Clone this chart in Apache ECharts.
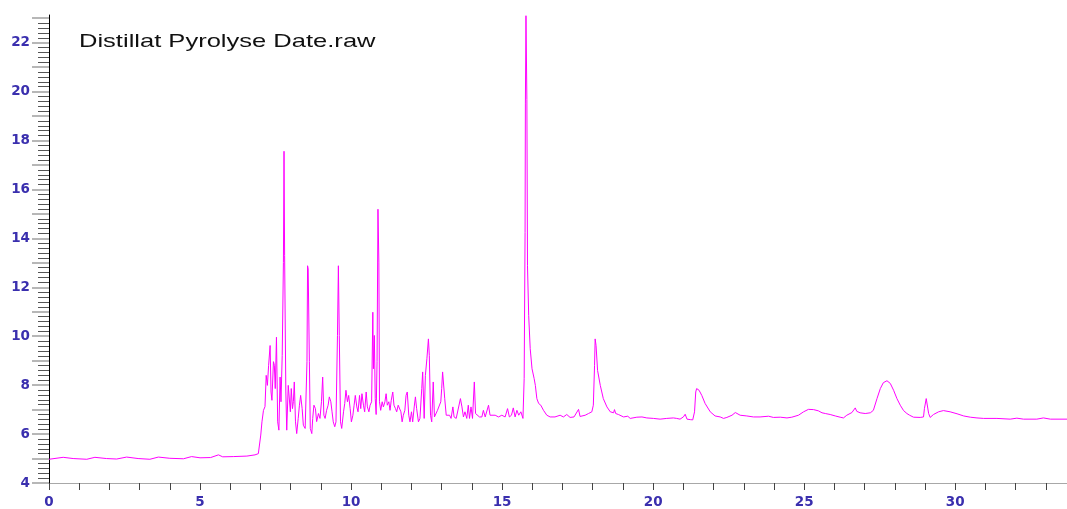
<!DOCTYPE html>
<html>
<head>
<meta charset="utf-8">
<title>Distillat Pyrolyse Date.raw</title>
<script src="https://cdn.jsdelivr.net/npm/echarts@6/dist/echarts.min.js"></script>
<style>
  html, body { margin: 0; padding: 0; background: #ffffff; }
  #chart { width: 1067px; height: 509px; }
</style>
</head>
<body>
<div id="chart"></div>
<script>
// Chromatogram trace: [retention time (min), detector signal]
const baselineRun = [
  [0.00,4.97],[0.47,5.05],[0.80,5.00],[1.25,4.97],[1.52,5.05],[1.90,5.00],[2.24,4.98],[2.57,5.06],
  [2.95,5.00],[3.34,4.97],[3.62,5.06],[4.00,5.01],[4.45,4.99],[4.72,5.08],[5.00,5.03],[5.35,5.04],
  [5.61,5.15],[5.75,5.07],[6.10,5.08],[6.55,5.10],[6.82,5.15],[6.93,5.20],[6.97,5.18],[7.01,5.96],
  [7.05,6.50],[7.10,6.97],[7.15,7.12]
];

const earlyCluster = [
  [7.19,8.40],[7.23,7.99],[7.27,8.81],[7.32,9.62],[7.35,7.72],[7.38,7.38],[7.43,8.96],[7.46,8.81],
  [7.49,7.86],[7.53,9.96],[7.57,6.50],[7.61,6.16],[7.65,8.33],[7.68,7.32],[7.72,9.21],[7.76,13.02],
  [7.78,17.56],[7.80,13.29],[7.84,7.72],[7.87,6.16],[7.92,7.99],[7.96,7.94],[7.99,6.91],[8.02,7.86],
  [8.06,7.04],[8.09,7.33],[8.12,8.13],[8.16,6.50],[8.20,6.02],[8.25,6.64],[8.29,7.18],[8.33,7.58],
  [8.38,7.04],[8.42,6.36],[8.48,6.23],[8.54,8.96],[8.56,12.88],[8.58,12.75],[8.62,8.96],[8.65,6.23],
  [8.70,6.02],[8.73,6.64],[8.77,7.18],[8.82,7.04],[8.86,6.51],[8.92,6.84],[8.97,6.64],[9.02,7.32],
  [9.06,8.33],[9.10,6.77],[9.14,6.64],[9.19,6.97],[9.24,7.18],[9.28,7.52],[9.33,7.32],[9.37,6.91],
  [9.41,6.50],[9.46,6.30],[9.50,6.50],[9.55,10.03],[9.58,12.88],[9.61,10.03],[9.65,6.50],[9.69,6.23],
  [9.75,6.91],[9.79,7.25],[9.83,7.79],[9.88,7.32],[9.92,7.58],[9.97,7.04]
];

const midCluster = [
  [10.01,6.50],[10.06,6.77],[10.10,7.18],[10.14,7.58],[10.19,7.11],[10.23,6.91],[10.28,7.58],[10.32,7.04],
  [10.36,7.65],[10.41,7.18],[10.45,6.91],[10.50,7.72],[10.54,7.11],[10.59,6.91],[10.63,7.18],[10.68,7.32],
  [10.72,10.98],[10.74,8.67],[10.77,10.03],[10.80,7.45],[10.83,6.80],[10.86,8.96],[10.89,15.19],[10.92,13.03],
  [10.94,7.32],[10.98,6.97],[11.03,7.32],[11.07,7.11],[11.12,7.32],[11.16,7.65],[11.20,7.18],[11.25,7.32],
  [11.29,6.97],[11.33,7.38],[11.38,7.72],[11.42,7.18],[11.47,7.04],[11.51,6.91],[11.56,7.18],[11.60,7.11],
  [11.65,6.91],[11.69,6.50],[11.73,6.77],[11.78,6.97],[11.82,7.58],[11.86,7.72],[11.91,6.77],[11.95,6.50],
  [12.00,6.91],[12.04,6.50],[12.09,7.11],[12.13,7.52],[12.17,7.04],[12.23,6.50],[12.28,6.64],[12.34,7.86],
  [12.37,8.54],[12.42,6.64],[12.46,8.40],[12.51,9.08],[12.56,9.89],[12.59,9.21],[12.63,6.77],[12.67,6.50],
  [12.72,8.13],[12.76,6.70],[12.80,6.77],[12.86,6.97],[12.91,6.91],[12.97,7.32],[13.00,7.86],[13.03,8.54],
  [13.06,8.60],[13.10,7.45],[13.15,6.77],[13.20,6.70],[13.26,6.77],[13.31,6.64],[13.37,7.11],[13.41,6.70],
  [13.48,6.64],[13.54,6.70],[13.62,7.45],[13.67,7.11],[13.72,6.70],[13.77,6.91],[13.83,6.64],[13.88,7.18],
  [13.92,6.64],[13.97,7.11],[14.02,6.64],[14.08,8.13],[14.12,6.84],[14.18,6.77],[14.25,6.70],[14.33,6.70],
  [14.38,6.97],[14.44,6.70],[14.49,6.77],[14.55,7.18],[14.60,6.77],[14.66,6.70],[14.77,6.77],[14.88,6.70],
  [14.99,6.77],[15.10,6.70],[15.18,7.04],[15.24,6.70],[15.31,6.77],[15.37,7.07],[15.43,6.70],[15.49,6.97],
  [15.55,6.77],[15.62,6.91],[15.69,6.64]
];

const mainPeak = [
  [15.73,8.27],[15.76,14.24],[15.77,19.53],[15.79,23.10],[15.82,19.67],[15.84,12.88],[15.88,10.84],[15.93,9.49],
  [15.99,8.67],[16.06,8.27],[16.10,7.99],[16.15,7.45],[16.21,7.25],[16.28,7.18],[16.32,7.25],[16.37,6.97],
  [16.48,6.77],[16.59,6.70],[16.75,6.70],[16.92,6.77],[17.03,6.70],[17.14,6.80],[17.25,6.68],[17.38,6.70],
  [17.53,7.01],[17.58,6.72],[17.64,6.64],[17.75,6.77],[17.86,6.84],[17.97,6.91],[18.02,7.18],[18.06,8.81],
  [18.08,9.89],[18.11,9.62],[18.16,8.60],[18.25,7.99],[18.35,7.45],[18.47,7.11],[18.58,6.91],[18.69,6.87],
  [18.72,7.00],[18.76,6.84],[18.85,6.80]
];

const lateElution = [
  [19.02,6.70],[19.16,6.73],[19.24,6.64],[19.46,6.69],[19.63,6.70],[19.79,6.66],[20.01,6.64],[20.23,6.61],
  [20.45,6.64],[20.67,6.66],[20.78,6.64],[20.89,6.61],[21.00,6.70],[21.06,6.81],[21.12,6.61],[21.23,6.59],
  [21.31,6.58],[21.37,6.91],[21.41,7.72],[21.44,7.86],[21.52,7.79],[21.61,7.58],[21.72,7.25],[21.89,6.91],
  [22.05,6.74],[22.22,6.70],[22.33,6.64],[22.44,6.68],[22.61,6.77],[22.72,6.88],[22.77,6.84],[22.88,6.77],
  [23.10,6.74],[23.32,6.70],[23.54,6.70],[23.82,6.73],[23.98,6.68],[24.21,6.69],[24.43,6.66],[24.59,6.69],
  [24.81,6.77],[24.98,6.91],[25.14,7.01],[25.31,7.00],[25.47,6.95],[25.59,6.87],[25.64,6.93],[25.70,6.84],
  [25.86,6.80],[26.03,6.74],[26.19,6.69],[26.30,6.66],[26.41,6.77],[26.58,6.88],[26.69,7.07],[26.74,6.93],
  [26.85,6.87],[27.02,6.84],[27.19,6.87],[27.29,6.97],[27.41,7.45],[27.52,7.86],[27.62,8.10],[27.74,8.18],
  [27.85,8.07],[27.96,7.79],[28.07,7.45],[28.18,7.18],[28.29,6.96],[28.40,6.84],[28.49,6.77],[28.62,6.69],
  [28.84,6.68],[28.95,6.70],[28.98,7.04],[29.04,7.45],[29.08,7.38],[29.12,6.84],[29.17,6.68],[29.28,6.80],
  [29.45,6.91],[29.61,6.96],[29.83,6.91],[30.06,6.83],[30.28,6.74],[30.50,6.69],[30.72,6.66],[30.94,6.64],
  [31.38,6.64],[31.82,6.61],[32.04,6.65],[32.26,6.61],[32.70,6.61],[32.92,6.66],[33.15,6.61],[33.70,6.61]
];

// Axis ranges and tick positions
const timeRange = [0, 33.7];
const signalRange = [4, 23.13];
const timeLabels = [0, 5, 10, 15, 20, 25, 30];
const timeTicks = [0,1,2,3,4,5,6,7,8,9,10,11,12,13,14,15,16,17,18,19,20,21,22,23,24,25,26,27,28,29,30,31,32,33];
const signalLabels = [4, 6, 8, 10, 12, 14, 16, 18, 20, 22];
const signalTicks = [4,5,6,7,8,9,10,11,12,13,14,15,16,17,18,19,20,21,22,23];

// fine ticks every 0.2 between the whole-number ticks
const signalFineTicks = [];
for (let k = 0; k <= 95; k++) {
  const v = Math.round((4 + k * 0.2) * 10) / 10;
  if (Math.abs(v - Math.round(v)) > 1e-6 && v <= signalRange[1]) signalFineTicks.push(v);
}

const trace = baselineRun.concat(earlyCluster, midCluster, mainPeak, lateElution);

const labelColor = '#3a2fae';
const labelFont = { fontFamily: '"DejaVu Sans", sans-serif', fontWeight: 'bold', fontSize: 13.5, color: labelColor };

function signalAxis(extra) {
  return Object.assign({
    type: 'value',
    position: 'left',
    min: signalRange[0],
    max: signalRange[1],
    splitLine: { show: false },
    axisLine: { show: false },
    axisLabel: { show: false },
    axisTick: { show: false }
  }, extra);
}

const chart = echarts.init(document.getElementById('chart'), null, { renderer: 'canvas' });

chart.setOption({
  animation: false,
  backgroundColor: '#ffffff',
  grid: { left: 49, right: 0, top: 15, bottom: 24.3, containLabel: false },
  graphic: [{
    type: 'text',
    x: 79,
    y: 41.5,
    scaleX: 1.38,
    silent: true,
    style: {
      text: 'Distillat Pyrolyse Date.raw',
      font: '18.5px "Liberation Sans", Arial, sans-serif',
      fill: '#111111',
      verticalAlign: 'middle',
      align: 'left'
    }
  }],
  xAxis: {
    type: 'value',
    min: timeRange[0],
    max: timeRange[1],
    splitLine: { show: false },
    axisLine: { show: true, onZero: false, lineStyle: { color: '#a8a8a8', width: 1 } },
    axisTick: { show: true, length: 7, customValues: timeTicks, lineStyle: { color: '#444444', width: 1 } },
    axisLabel: Object.assign({ margin: 12, customValues: timeLabels }, labelFont)
  },
  yAxis: [
    // whole-number ticks and labels, with the axis line
    signalAxis({
      axisLine: { show: true, lineStyle: { color: '#000000', width: 1 } },
      axisTick: { show: true, length: 17, customValues: signalTicks, lineStyle: { color: '#a0a0a0', width: 1.5 } },
      axisLabel: Object.assign({ show: true, margin: 19, customValues: signalLabels }, labelFont)
    }),
    // fine ticks
    signalAxis({
      axisTick: { show: true, length: 11, customValues: signalFineTicks, lineStyle: { color: '#555555', width: 1 } }
    })
  ],
  series: [{
    type: 'line',
    yAxisIndex: 0,
    data: trace,
    showSymbol: false,
    symbol: 'none',
    silent: true,
    lineStyle: { color: '#ff00ff', width: 1 }
  }]
});
</script>
</body>
</html>
